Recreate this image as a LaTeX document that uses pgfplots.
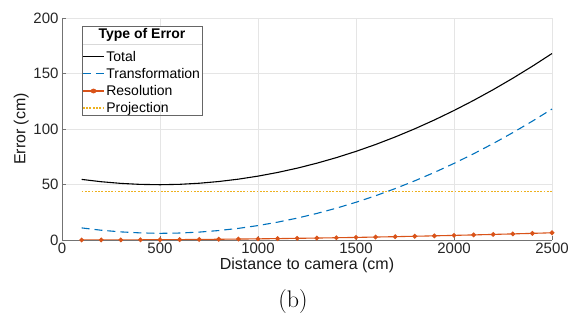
\documentclass[border=0pt]{standalone}
\usepackage{pgfplots}
\pgfplotsset{compat=1.18}
\usepackage{fontspec}
\setmainfont{Liberation Sans}
\newfontfamily\lmserif{Latin Modern Roman}
\definecolor{mblue}{rgb}{0,0.447,0.741}
\definecolor{mred}{rgb}{0.85,0.325,0.098}
\definecolor{myellow}{rgb}{0.929,0.694,0.125}
\begin{document}
\begin{tikzpicture}
\begin{axis}[
  set layers=standard,
  at={(0,0)}, anchor=south west,
  scale only axis, width=490bp, height=222bp,
  xmin=0, xmax=2500, ymin=0, ymax=200,
  xtick={0,500,1000,1500,2000,2500},
  ytick={0,50,100,150,200},
  /pgf/number format/assume math mode=true,
  /pgf/number format/1000 sep={},
  tick label style={font=\fontsize{15bp}{17bp}\selectfont, text=black!85},
  label style={font=\fontsize{16bp}{18bp}\selectfont, text=black!90},
  xlabel={Distance to camera (cm)},
  ylabel={Error (cm)},
  xlabel style={yshift=3bp},
  ylabel style={yshift=-2bp},
  grid=major,
  major grid style={black!10, line width=0.5pt},
  axis line style={draw=none},
  tick align=inside,
  major tick length=4bp,
  tick style={black!55, line width=0.5pt},
  xtick pos=bottom, ytick pos=left,
  clip=false,
  legend style={at={(rel axis cs:0.0408,0.8586)}, anchor=north west,
    draw=none, fill=none, font=\fontsize{14bp}{16bp}\selectfont,
    inner sep=0pt, row sep=2.4bp, cells={anchor=west},
    nodes={inner sep=1.5bp}},
  legend cell align=left,
  legend image post style={xscale=1.25},
]
\begin{pgfonlayer}{pre main}
\fill[white] (axis cs:102,125.1) rectangle (axis cs:714,192.8);
\end{pgfonlayer}
\addplot[black, line width=1.1pt] coordinates {
(100,54.6) (200,52.5) (300,51.0) (400,50.1) (500,49.8) (600,50.15) (700,51.13) (800,52.69) (900,54.82) (1000,57.54)
(1100,60.84) (1200,64.72) (1300,69.18) (1400,74.22) (1500,79.84) (1600,86.04) (1700,92.83) (1800,100.19) (1900,108.13) (2000,116.66)
(2100,125.77) (2200,135.45) (2300,145.72) (2400,156.57) (2500,168.0)};
\addlegendentry{Total}
\addplot[mblue, line width=1.1pt, dash pattern=on 8bp off 5bp] coordinates {
(100,10.9) (200,8.8) (300,7.3) (400,6.4) (500,6.0) (600,6.28) (700,7.12) (800,8.52) (900,10.48) (1000,13.0)
(1100,16.08) (1200,19.72) (1300,23.92) (1400,28.68) (1500,34.0) (1600,39.88) (1700,46.32) (1800,53.32) (1900,60.88) (2000,69.0)
(2100,77.68) (2200,86.92) (2300,96.72) (2400,107.08) (2500,118.0)};
\addlegendentry{Transformation}
\addplot[mred, line width=1.1pt, mark=*, mark size=1.8bp] coordinates {
(100,0.01) (200,0.04) (300,0.09) (400,0.17) (500,0.26) (600,0.37) (700,0.51) (800,0.67) (900,0.84) (1000,1.04)
(1100,1.26) (1200,1.50) (1300,1.76) (1400,2.04) (1500,2.34) (1600,2.66) (1700,3.01) (1800,3.37) (1900,3.75) (2000,4.16)
(2100,4.59) (2200,5.03) (2300,5.50) (2400,5.99) (2500,6.5)};
\addlegendentry{Resolution}
\addplot[myellow, line width=1.4pt, dash pattern=on 1.8bp off 1.5bp] coordinates {(100,43.5) (2500,43.5)};
\addlegendentry{Projection}
\draw[black!55, line width=0.5pt] (axis cs:0,200) -- (axis cs:0,0) -- (axis cs:2500,0);
\end{axis}
% legend frame and title
\draw[black!15, line width=0.6pt] (20bp,196bp) -- (140bp,196bp);
\draw[black!60, line width=0.7pt] (20bp,125bp) rectangle (140bp,214bp);
\node[font=\fontsize{14bp}{16bp}\selectfont\bfseries] at (80bp,205bp) {Type of Error};
\node[font=\lmserif\fontsize{24bp}{26bp}\selectfont] at (231bp,-62bp) {(b)};
\pgfresetboundingbox
\path[use as bounding box] (-62bp,-83bp) rectangle (512bp,240bp);
\end{tikzpicture}
\end{document}
